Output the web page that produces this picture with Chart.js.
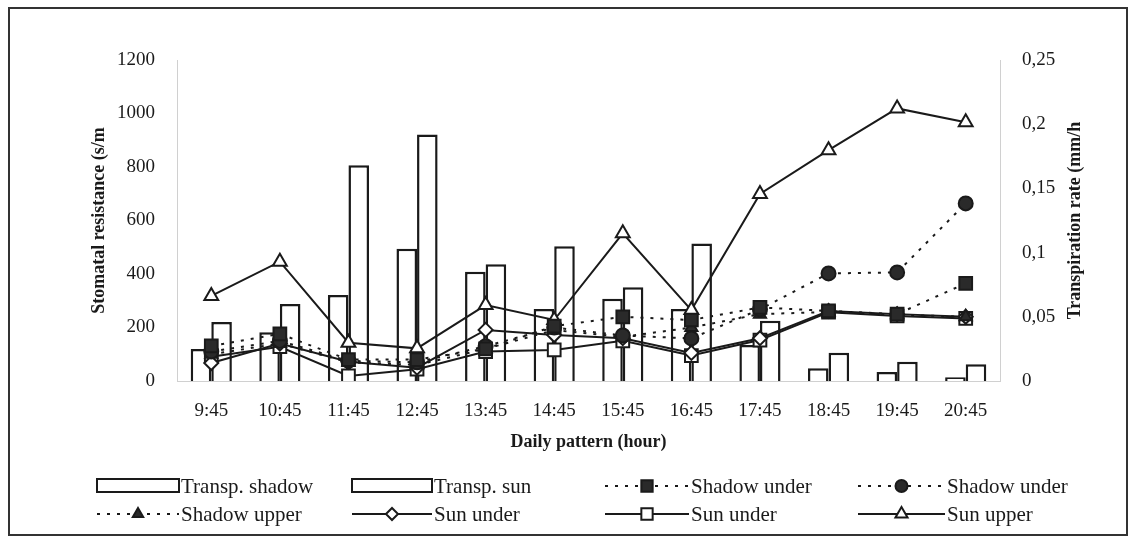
<!DOCTYPE html>
<html>
<head>
<meta charset="utf-8">
<script src="https://cdn.jsdelivr.net/npm/chart.js@4.4.0/dist/chart.umd.min.js"></script>
<style>
  html, body { margin: 0; padding: 0; background: #fff; }
</style>
</head>
<body>
<canvas id="chart" width="1131" height="537"></canvas>
<script>
// hours on the x axis
const hours = ['9:45', '10:45', '11:45', '12:45', '13:45', '14:45', '15:45', '16:45', '17:45', '18:45', '19:45', '20:45'];

// transpiration rate, mm/h (right axis)
const transpShadow = [0.025, 0.038, 0.067, 0.103, 0.085, 0.056, 0.064, 0.056, 0.028, 0.010, 0.007, 0.003];
const transpSun = [0.046, 0.060, 0.168, 0.192, 0.091, 0.105, 0.073, 0.107, 0.047, 0.022, 0.015, 0.013];

// stomatal resistance, s/m (left axis)
const shadowUnderSq = [131, 176, 80, 80, 120, 205, 240, 228, 275, 262, 250, 365];
const shadowUnderCirc = [110, 150, 75, 70, 130, 200, 170, 159, 268, 402, 406, 664];
const shadowUpper = [100, 140, 70, 60, 120, 190, 165, 200, 250, 258, 248, 240];
const sunUnderDiamond = [67, 140, 72, 50, 191, 172, 160, 105, 160, 262, 250, 240];
const sunUnderSq = [91, 128, 19, 44, 110, 116, 150, 95, 153, 257, 243, 234];
const sunUpper = [318, 446, 143, 122, 284, 228, 552, 265, 699, 863, 1019, 967];

const leftTicks = [0, 200, 400, 600, 800, 1000, 1200];
const rightTicks = [0, 0.05, 0.1, 0.15, 0.2, 0.25];

const serif = 'Liberation Serif';
const ink = '#1a1a1a';
const rightTitle = 'Transpiration rate (mm/h';

function lineSet(label, data, style, radius, filled, dash) {
  return {
    type: 'line',
    label: label,
    data: data,
    yAxisID: 'y',
    borderColor: ink,
    borderWidth: 2,
    borderDash: dash,
    pointStyle: style,
    pointRadius: radius,
    pointBorderWidth: 2,
    pointBorderColor: ink,
    pointBackgroundColor: filled ? '#2a2a2a' : '#fff',
    fill: false,
    tension: 0,
    order: 1
  };
}

function barSet(label, data) {
  return {
    type: 'bar',
    label: label,
    data: data,
    yAxisID: 'y1',
    backgroundColor: '#fff',
    borderColor: ink,
    borderWidth: 2.5,
    categoryPercentage: 0.6,
    barPercentage: 1.0,
    order: 10
  };
}

const datasets = [
  barSet('Transp. shadow', transpShadow),
  barSet('Transp. sun', transpSun),
  lineSet('Shadow under', shadowUnderSq, 'rect', 9, true, [3, 7]),
  lineSet('Shadow under', shadowUnderCirc, 'circle', 7, true, [3, 7]),
  lineSet('Shadow upper', shadowUpper, 'triangle', 7, true, [3, 7]),
  lineSet('Sun under', sunUnderDiamond, 'rectRot', 7, false, []),
  lineSet('Sun under', sunUnderSq, 'rect', 9, false, []),
  lineSet('Sun upper', sunUpper, 'triangle', 8, false, [])
];

// outer frame of the figure
const framePlugin = {
  id: 'frame',
  beforeDraw(chart) {
    const ctx = chart.ctx;
    ctx.save();
    ctx.fillStyle = '#fff';
    ctx.fillRect(0, 0, chart.width, chart.height);
    ctx.strokeStyle = '#333';
    ctx.lineWidth = 2;
    ctx.strokeRect(9, 8, 1118, 527);
    ctx.restore();
  }
};

// right axis title reads bottom to top, like the left one
const rightTitlePlugin = {
  id: 'rightTitle',
  afterDraw(chart) {
    const ctx = chart.ctx;
    const s = chart.scales.y1;
    ctx.save();
    ctx.translate(s.right - 46, (chart.chartArea.top + chart.chartArea.bottom) / 2);
    ctx.rotate(-Math.PI / 2);
    ctx.font = 'bold 18px "' + serif + '"';
    ctx.fillStyle = ink;
    ctx.textAlign = 'center';
    ctx.textBaseline = 'middle';
    ctx.fillText(rightTitle, 0, 0);
    ctx.restore();
  }
};

// legend below the x axis title, 2 rows x 4 columns
const legendPlugin = {
  id: 'legendBelow',
  afterDraw(chart) {
    const ctx = chart.ctx;
    const sampleX = [97, 352, 605, 858];
    const textX = [181, 434, 691, 947];
    const rowY = [486, 514];
    ctx.save();
    ctx.font = '21px "' + serif + '"';
    ctx.textBaseline = 'middle';
    chart.data.datasets.forEach((ds, i) => {
      const tx = textX[i % 4];
      const y = rowY[Math.floor(i / 4)];
      const x0 = sampleX[i % 4], x1 = tx - 2;
      ctx.strokeStyle = ink;
      ctx.lineWidth = 2;
      if (ds.type === 'bar') {
        ctx.setLineDash([]);
        ctx.fillStyle = '#fff';
        ctx.fillRect(x0, y - 7, x1 - x0, 13);
        ctx.strokeRect(x0, y - 7, x1 - x0, 13);
      } else {
        ctx.setLineDash(ds.borderDash);
        ctx.beginPath();
        ctx.moveTo(x0, y);
        ctx.lineTo(x1, y);
        ctx.stroke();
        ctx.setLineDash([]);
        ctx.fillStyle = ds.pointBackgroundColor;
        Chart.helpers.drawPoint(ctx, {
          pointStyle: ds.pointStyle,
          radius: ds.pointRadius - 1,
          rotation: 0,
          borderWidth: 2
        }, (x0 + x1) / 2, y);
      }
      ctx.fillStyle = ink;
      ctx.textAlign = 'left';
      ctx.fillText(ds.label, tx, y + 1);
    });
    ctx.restore();
  }
};

new Chart(document.getElementById('chart').getContext('2d'), {
  data: {
    labels: hours,
    datasets: datasets
  },
  options: {
    responsive: false,
    animation: false,
    layout: {
      padding: { left: 10, right: 10, top: 60, bottom: 81 }
    },
    plugins: {
      legend: { display: false },
      tooltip: { enabled: false }
    },
    scales: {
      x: {
        grid: { display: false },
        border: { color: '#d0d0d0', dash: [2, 3] },
        ticks: {
          color: ink,
          font: { family: serif, size: 19 },
          padding: 11,
          maxRotation: 0
        },
        title: {
          display: true,
          text: 'Daily pattern (hour)',
          color: ink,
          font: { family: serif, size: 18, weight: 'bold' },
          padding: { top: 4, bottom: 3 }
        },
        afterFit(scale) { scale.height = 75; }
      },
      y: {
        position: 'left',
        min: 0,
        max: 1200,
        grid: { display: false },
        border: { color: '#d0d0d0', dash: [2, 3] },
        afterBuildTicks(scale) { scale.ticks = leftTicks.map(v => ({ value: v })); },
        ticks: {
          color: ink,
          font: { family: serif, size: 19 },
          padding: 14,
          callback: (v) => String(v)
        },
        title: {
          display: true,
          text: 'Stomatal resistance (s/m',
          color: ink,
          font: { family: serif, size: 18, weight: 'bold' },
          padding: { top: 79, bottom: 0 }
        },
        afterFit(scale) { scale.width = 167; }
      },
      y1: {
        position: 'right',
        min: 0,
        max: 0.25,
        grid: { display: false },
        border: { color: '#d0d0d0', dash: [2, 3] },
        afterBuildTicks(scale) { scale.ticks = rightTicks.map(v => ({ value: v })); },
        ticks: {
          color: ink,
          font: { family: serif, size: 19 },
          padding: 14,
          callback: (v) => String(Math.round(v * 100) / 100).replace('.', ',')
        },
        afterFit(scale) { scale.width = 121; }
      }
    }
  },
  plugins: [framePlugin, rightTitlePlugin, legendPlugin]
});
</script>
</body>
</html>
